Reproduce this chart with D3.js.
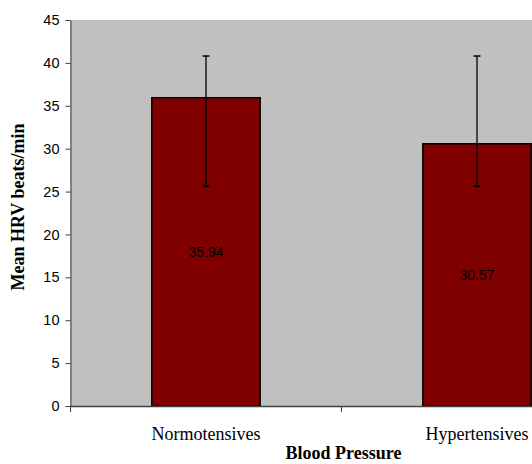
<!DOCTYPE html>
<html>
<head>
<meta charset="utf-8">
<script src="https://d3js.org/d3.v7.min.js"></script>
<style>
  body { margin: 0; background: #fff; }
  svg { display: block; }
</style>
</head>
<body>
<div id="chart"></div>
<script>
var categories = ["Normotensives", "Hypertensives"];
var meanValues = [35.94, 30.57];
var errLow = [25.6, 25.6];
var errHigh = [40.8, 40.8];
var yTicks = [0, 5, 10, 15, 20, 25, 30, 35, 40, 45];

var width = 532, height = 464;
var margin = { left: 70.5, top: 20, bottom: 58 };
var bandWidth = 271;

var svg = d3.select("#chart").append("svg")
    .attr("width", width)
    .attr("height", height);

var x = d3.scaleBand()
    .domain(categories)
    .range([margin.left, margin.left + bandWidth * categories.length])
    .paddingInner(0.6)
    .paddingOuter(0.3);

var y = d3.scaleLinear()
    .domain([0, 45])
    .range([height - margin.bottom, margin.top]);

// plot area background
svg.append("rect")
    .attr("x", margin.left)
    .attr("y", y(45))
    .attr("width", bandWidth * categories.length)
    .attr("height", y(0) - y(45))
    .attr("fill", "#c0c0c0");

// bars
svg.selectAll("rect.bar")
    .data(meanValues)
    .enter().append("rect")
    .attr("class", "bar")
    .attr("x", function(d, i) { return x(categories[i]); })
    .attr("y", function(d) { return y(d); })
    .attr("width", x.bandwidth())
    .attr("height", function(d) { return y(0) - y(d); })
    .attr("fill", "#800000")
    .attr("stroke", "#000")
    .attr("stroke-width", 1.5);

// value labels
svg.selectAll("text.val")
    .data(meanValues)
    .enter().append("text")
    .attr("class", "val")
    .attr("x", function(d, i) { return x(categories[i]) + x.bandwidth() / 2; })
    .attr("y", function(d) { return (y(d) + y(0)) / 2; })
    .attr("dy", "0.35em")
    .attr("text-anchor", "middle")
    .style("font-family", "Arial, 'Liberation Sans', sans-serif")
    .style("font-size", "14px")
    .style("fill", "#000")
    .text(function(d) { return d.toFixed(2); });

// error bars
var eb = svg.selectAll("g.err")
    .data(meanValues)
    .enter().append("g")
    .attr("class", "err");

eb.append("line")
    .attr("x1", function(d, i) { return x(categories[i]) + x.bandwidth() / 2; })
    .attr("x2", function(d, i) { return x(categories[i]) + x.bandwidth() / 2; })
    .attr("y1", function(d, i) { return y(errLow[i]); })
    .attr("y2", function(d, i) { return y(errHigh[i]); })
    .attr("stroke", "#000")
    .attr("stroke-width", 1.3);

[errLow, errHigh].forEach(function(arr) {
    eb.append("line")
        .attr("x1", function(d, i) { return x(categories[i]) + x.bandwidth() / 2 - 3.5; })
        .attr("x2", function(d, i) { return x(categories[i]) + x.bandwidth() / 2 + 3.5; })
        .attr("y1", function(d, i) { return y(arr[i]); })
        .attr("y2", function(d, i) { return y(arr[i]); })
        .attr("stroke", "#000")
        .attr("stroke-width", 1.5);
});

// y axis
var yAxis = svg.append("g")
    .attr("transform", "translate(" + margin.left + ",0)")
    .call(d3.axisLeft(y).tickValues(yTicks).tickSize(5).tickPadding(6).tickSizeOuter(0));
yAxis.select(".domain").attr("stroke", "#808080").attr("stroke-width", 2);
yAxis.selectAll(".tick line").attr("stroke", "#404040");
yAxis.selectAll(".tick text")
    .style("font-family", "Arial, 'Liberation Sans', sans-serif")
    .style("font-size", "14.5px")
    .style("fill", "#000");

// x axis
var xAxis = svg.append("g")
    .attr("transform", "translate(0," + y(0) + ")")
    .call(d3.axisBottom(x).tickSize(0).tickPadding(21).tickSizeOuter(0));
xAxis.select(".domain").attr("stroke", "#404040").attr("stroke-width", 1.5);
xAxis.selectAll(".tick text")
    .style("font-family", "'Liberation Serif', 'Times New Roman', serif")
    .style("font-size", "18px")
    .style("fill", "#000");

// tick marks between categories
xAxis.selectAll("line.sep")
    .data(d3.range(categories.length + 1))
    .enter().append("line")
    .attr("class", "sep")
    .attr("x1", function(d) { return margin.left + d * bandWidth; })
    .attr("x2", function(d) { return margin.left + d * bandWidth; })
    .attr("y1", 0)
    .attr("y2", 6)
    .attr("stroke", "#404040");

// axis titles
svg.append("text")
    .attr("x", margin.left + bandWidth + 2)
    .attr("y", 459)
    .attr("text-anchor", "middle")
    .style("font-family", "'Liberation Serif', 'Times New Roman', serif")
    .style("font-weight", "bold")
    .style("font-size", "18px")
    .text("Blood Pressure");

svg.append("text")
    .attr("transform", "translate(24," + ((y(0) + y(45)) / 2 - 6) + ") rotate(-90)")
    .attr("text-anchor", "middle")
    .style("font-family", "'Liberation Serif', 'Times New Roman', serif")
    .style("font-weight", "bold")
    .style("font-size", "18px")
    .text("Mean HRV beats/min");
</script>
</body>
</html>
